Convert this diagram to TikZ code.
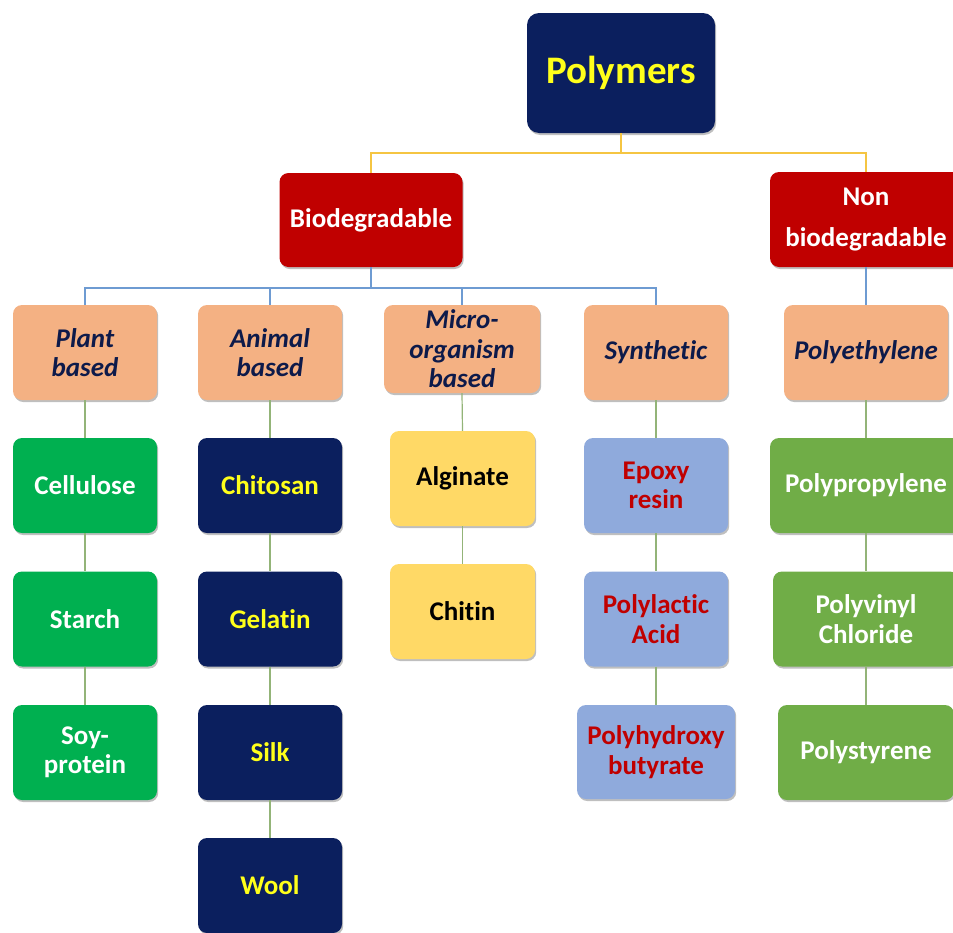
\documentclass[tikz,border=0pt]{standalone}
\usepackage{fontspec}
\setmainfont[Ligatures=NoCommon]{Carlito}
\usetikzlibrary{shadows}
\definecolor{navy}{HTML}{0B1F5E}
\definecolor{dred}{HTML}{C00000}
\definecolor{peach}{HTML}{F4B183}
\definecolor{gone}{HTML}{00B050}
\definecolor{gtwo}{HTML}{70AD47}
\definecolor{ybox}{HTML}{FFD966}
\definecolor{bbox}{HTML}{8FAADC}
\definecolor{ytext}{HTML}{FFFF1A}
\definecolor{ntext}{HTML}{0D1A4A}
\definecolor{lnY}{HTML}{F5C542}
\definecolor{lnB}{HTML}{6E9BD2}
\definecolor{lnG}{HTML}{93B478}
\tikzset{
  bx/.style 2 args={rectangle, rounded corners=9pt, inner sep=0pt, align=center,
    minimum width=#1, minimum height=#2,
    drop shadow={shadow xshift=1.2pt, shadow yshift=-2pt, opacity=0.25, fill=black},
    font=\fontsize{27}{29.5}\selectfont\bfseries},
  navybox/.style={fill=navy, text=ytext},
  redbox/.style={fill=dred, text=white},
  peachbox/.style={fill=peach, text=ntext, font=\fontsize{27}{29.5}\selectfont\bfseries\itshape},
  gonebox/.style={fill=gone, text=white},
  gtwobox/.style={fill=gtwo, text=white},
  ylwbox/.style={fill=ybox, text=black},
  bluebox/.style={fill=bbox, text=dred},
  conY/.style={draw=lnY, line width=1.4pt},
  conB/.style={draw=lnB, line width=1.4pt},
  conG/.style={draw=lnG, line width=1.2pt},
}
\begin{document}
\begin{tikzpicture}[x=1pt, y=-1pt]
\useasboundingbox (0,0) rectangle (953,932);
% level 0
\node[bx={188pt}{120pt}, navybox, rounded corners=12pt, font=\fontsize{39}{44}\selectfont\bfseries] (poly) at (621,73) {Polymers};
% level 1
\node[bx={183pt}{94pt}, redbox] (bio) at (371,220) {Biodegradable};
\node[bx={192pt}{95pt}, redbox, font=\fontsize{27}{41}\selectfont\bfseries] (nonbio) at (866,219.5) {Non\\biodegradable};
% level 2
\node[bx={144pt}{95pt}, peachbox] (plant) at (85,352.5) {Plant\\based};
\node[bx={144pt}{95pt}, peachbox] (animal) at (270,352.5) {Animal\\based};
\node[bx={156pt}{88pt}, peachbox] (micro) at (462,349) {Micro-\\organism\\based};
\node[bx={144pt}{95pt}, peachbox] (synth) at (656,352.5) {Synthetic};
\node[bx={164pt}{95pt}, peachbox] (pe) at (866,352.5) {Polyethylene};
% column plant
\node[bx={144pt}{95pt}, gonebox] (cell) at (85,485.5) {Cellulose};
\node[bx={144pt}{95pt}, gonebox] (starch) at (85,619) {Starch};
\node[bx={144pt}{95pt}, gonebox] (soy) at (85,752.5) {Soy-\\protein};
% column animal
\node[bx={144pt}{95pt}, navybox] (chito) at (270,485.5) {Chitosan};
\node[bx={144pt}{95pt}, navybox] (gel) at (270,619) {Gelatin};
\node[bx={144pt}{95pt}, navybox] (silk) at (270,752.5) {Silk};
\node[bx={144pt}{95pt}, navybox] (wool) at (270,885.5) {Wool};
% column micro
\node[bx={145pt}{95pt}, ylwbox] (alg) at (462.5,478.5) {Alginate};
\node[bx={145pt}{95pt}, ylwbox] (chitin) at (462.5,611.5) {Chitin};
% column synthetic
\node[bx={144pt}{95pt}, bluebox] (epoxy) at (656,485.5) {Epoxy\\resin};
\node[bx={144pt}{95pt}, bluebox] (pla) at (656,619) {Polylactic\\Acid};
\node[bx={158pt}{94pt}, bluebox] (phb) at (656,752) {Polyhydroxy\\butyrate};
% column non-bio
\node[bx={192pt}{95pt}, gtwobox] (pp) at (866,485.5) {Polypropylene};
\node[bx={186pt}{95pt}, gtwobox] (pvc) at (866,619) {Polyvinyl\\Chloride};
\node[bx={176pt}{95pt}, gtwobox] (ps) at (866,752.5) {Polystyrene};
% connectors
\coordinate (j1) at (621,153);
\draw[conY] (poly.south) -- (j1);
\draw[conY] (j1) -| (bio.north);
\draw[conY] (j1) -| (nonbio.north);
\coordinate (j2) at (371,288);
\draw[conB] (bio.south) -- (j2);
\draw[conB] (j2) -| (plant.north);
\draw[conB] (j2) -| (animal.north);
\draw[conB] (j2) -| (micro.north);
\draw[conB] (j2) -| (synth.north);
\draw[conB] (nonbio.south) -- (pe.north);
\draw[conG] (plant.south) -- (cell.north);
\draw[conG] (cell.south) -- (starch.north);
\draw[conG] (starch.south) -- (soy.north);
\draw[conG] (animal.south) -- (chito.north);
\draw[conG] (chito.south) -- (gel.north);
\draw[conG] (gel.south) -- (silk.north);
\draw[conG] (silk.south) -- (wool.north);
\draw[conG] (micro.south) -- (alg.north);
\draw[conG] (alg.south) -- (chitin.north);
\draw[conG] (synth.south) -- (epoxy.north);
\draw[conG] (epoxy.south) -- (pla.north);
\draw[conG] (pla.south) -- (phb.north);
\draw[conG] (pe.south) -- (pp.north);
\draw[conG] (pp.south) -- (pvc.north);
\draw[conG] (pvc.south) -- (ps.north);
\end{tikzpicture}
\end{document}
